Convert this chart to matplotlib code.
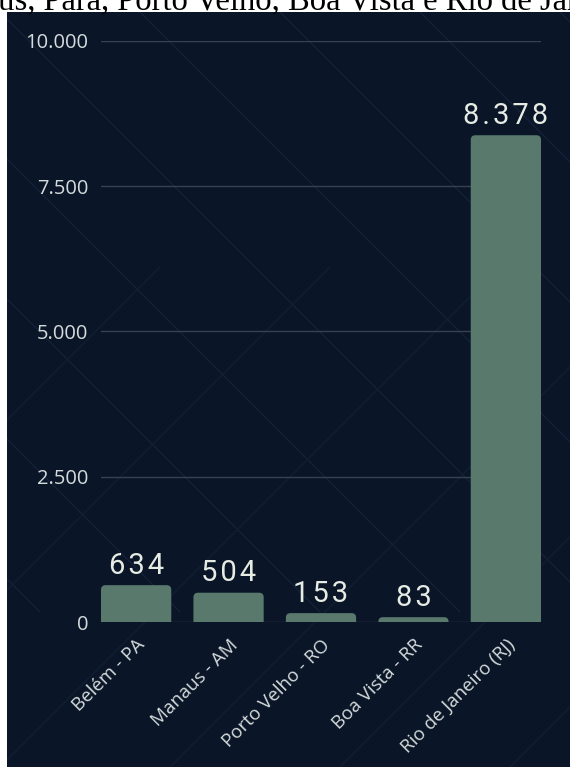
import matplotlib
matplotlib.use("Agg")
import matplotlib.pyplot as plt
import matplotlib.transforms as mtransforms
from matplotlib.patches import Rectangle, FancyBboxPatch
from matplotlib.lines import Line2D

# dados
cidades = ["Belém - PA", "Manaus - AM", "Porto Velho - RO", "Boa Vista - RR", "Rio de Janeiro (RJ)"]
valores = [634, 504, 153, 83, 8378]
rotulos_valor = ["634", "504", "153", "83", "8.378"]
yticks = [0, 2500, 5000, 7500, 10000]
ytick_labels = ["0", "2.500", "5.000", "7.500", "10.000"]
titulo = "Manaus, Pará, Porto Velho, Boa Vista e Rio de Janeiro"

W, H = 570, 767
fundo = "#0a1628"
cor_barra = "#58796b"
cor_texto = "#d5dbdc"

fig = plt.figure(figsize=(W / 100, H / 100), dpi=100)
fig.patch.set_facecolor("white")

# painel escuro
painel = Rectangle((7 / W, 0), 1 - 7 / W, (H - 12) / H, transform=fig.transFigure,
                   facecolor=fundo, edgecolor="none", zorder=0)
fig.add_artist(painel)

# linhas diagonais de textura (so dentro do painel)
for k in range(-6, 8):
    x0 = k * 140
    ln = Line2D([x0 / W, (x0 + 600) / W], [(H - 12) / H, (H - 612) / H],
                transform=fig.transFigure, color="#16233a", lw=0.8, zorder=0.5)
    fig.add_artist(ln)
    ln.set_clip_path(painel)
for k in range(-6, 8):
    x0 = k * 170
    ln = Line2D([x0 / W, (x0 + 500) / W], [0, 500 / H],
                transform=fig.transFigure, color="#131f33", lw=0.8, zorder=0.5)
    fig.add_artist(ln)
    ln.set_clip_path(painel)

# titulo cortado no topo
fig.text(0.49, (H - 9) / H, titulo, ha="center", va="baseline", fontsize=23.5,
         family="Liberation Serif", color="black")

ax = fig.add_axes([101 / W, (H - 622) / H, 440 / W, 581 / H])
ax.set_facecolor("none")
ax.set_zorder(2)

largura = 0.76
x = range(len(cidades))
barras = ax.bar(x, valores, width=largura, color=cor_barra)

# cantos arredondados
asp = (10000 / 581) / ((len(cidades) - 1 + largura) / 440)
for r in barras:
    bx, bw, bh = r.get_x(), r.get_width(), r.get_height()
    r.set_visible(False)
    p = FancyBboxPatch((bx, -200), bw, bh + 200,
                       boxstyle="round,pad=0,rounding_size=0.05",
                       mutation_aspect=asp, facecolor=cor_barra, edgecolor="none", zorder=3)
    ax.add_patch(p)

# rotulos com um pouco de espacamento entre letras
for i, (v, lab) in enumerate(zip(valores, rotulos_valor)):
    ax.annotate("\u200a".join(lab), (i, v), xytext=(0, 4), textcoords="offset points",
                ha="center", va="bottom", fontsize=21, color="#e6ebe4",
                family=["Roboto", "DejaVu Sans"])

ax.set_xlim(-largura / 2, len(cidades) - 1 + largura / 2)
ax.set_ylim(0, 10000)
ax.set_yticks(yticks)
ax.set_yticklabels(ytick_labels, fontsize=14.5, color=cor_texto, family="Open Sans")
ax.set_xticks(list(x))
ax.set_xticklabels(cidades, rotation=45, ha="right", rotation_mode="anchor",
                   fontsize=13.5, color=cor_texto, family="Open Sans")
desloc = mtransforms.ScaledTranslation(6 / 100, 0, fig.dpi_scale_trans)
for t in ax.get_xticklabels():
    t.set_transform(t.get_transform() + desloc)
ax.tick_params(axis="both", length=0)
ax.tick_params(axis="y", pad=9)
ax.tick_params(axis="x", pad=10)
ax.grid(axis="y", color="#36424f", lw=1)
ax.set_axisbelow(True)
for s in ax.spines.values():
    s.set_visible(False)

fig.savefig("out.png", dpi=100, facecolor=fig.get_facecolor())
